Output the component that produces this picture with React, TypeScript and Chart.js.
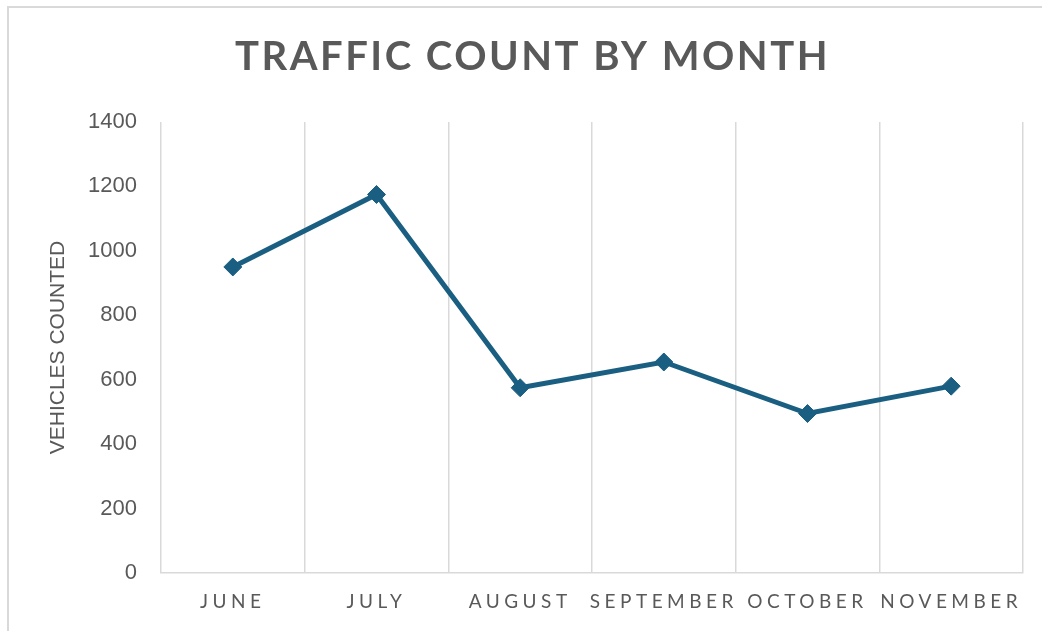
import React, { useEffect, useRef } from "react";
import { Chart, registerables } from "chart.js";

Chart.register(...registerables);

const months = ["JUNE", "JULY", "AUGUST", "SEPTEMBER", "OCTOBER", "NOVEMBER"];
const vehicles = [950, 1175, 575, 655, 495, 580];
const chartTitle = "TRAFFIC COUNT BY MONTH";
const yAxisTitle = "VEHICLES COUNTED";
const yMin = 0;
const yMax = 1400;
const yStep = 200;

const TEXT = "#595959";
const GRID = "#d9d9d9";
const LINE = "#1a5f82";

const spacingPlugin = {
  id: "letterSpacingPatch",
  beforeDraw(chart: any) {
    const ctx = chart.ctx as any;
    const x = chart.scales.x;
    if (x && !x.__ls) {
      const orig = x.drawLabels.bind(x);
      x.drawLabels = (area: any) => {
        ctx.save();
        ctx.letterSpacing = "4.5px";
        orig(area);
        ctx.restore();
      };
      x.__ls = true;
    }
    const t = chart.titleBlock;
    if (t && !t.__ls) {
      const origT = t.draw.bind(t);
      t.draw = (area: any) => {
        ctx.save();
        ctx.letterSpacing = "2.5px";
        ctx.translate(11, 0);
        origT(area);
        ctx.restore();
      };
      t.__ls = true;
    }
  },
};

export default function App() {
  const ref = useRef<HTMLCanvasElement | null>(null);

  useEffect(() => {
    document.body.style.margin = "0";
    const canvas = ref.current;
    if (!canvas) return;
    const chart = new Chart(canvas, {
      type: "line",
      data: {
        labels: months,
        datasets: [
          {
            data: vehicles,
            borderColor: LINE,
            backgroundColor: LINE,
            borderWidth: 5,
            pointStyle: "rectRot",
            pointRadius: 9,
            pointBorderWidth: 1,
            pointBackgroundColor: LINE,
            pointBorderColor: LINE,
            tension: 0,
          },
        ],
      },
      options: {
        responsive: false,
        animation: false,
        devicePixelRatio: 1,
        layout: { padding: { left: 20, right: 19, top: 0, bottom: 0 } },
        plugins: {
          legend: { display: false },
          tooltip: { enabled: false },
          title: {
            display: true,
            text: chartTitle,
            color: TEXT,
            font: { family: "Lato", size: 40, weight: "bold", lineHeight: 1.2 },
            padding: { top: 33, bottom: 41 },
          },
        },
        scales: {
          x: {
            type: "category",
            offset: true,
            grid: {
              display: true,
              offset: true,
              color: GRID,
              lineWidth: 1.5,
              drawTicks: false,
            },
            border: { display: true, color: GRID, width: 1.5 },
            ticks: {
              color: TEXT,
              font: { family: "Lato", size: 19 },
              padding: 17,
              maxRotation: 0,
              minRotation: 0,
              autoSkip: false,
            },
            afterFit(scale: any) {
              scale.height = 58;
            },
          },
          y: {
            min: yMin,
            max: yMax,
            grid: { display: false, drawTicks: false },
            border: { display: false },
            ticks: {
              stepSize: yStep,
              color: TEXT,
              font: { family: "Liberation Sans", size: 22 },
              padding: 24,
              callback: (v: any) => String(v),
            },
            title: {
              display: true,
              text: yAxisTitle,
              color: TEXT,
              font: { family: "Liberation Sans", size: 21, lineHeight: 1.2 },
              padding: { top: 26, bottom: 0 },
            },
            afterFit(scale: any) {
              scale.width = 141;
            },
          },
        },
      },
      plugins: [spacingPlugin],
    } as any);
    return () => chart.destroy();
  }, []);

  return (
    <div style={{ position: "relative", width: 1042, height: 631, background: "#fff" }}>
      <canvas ref={ref} width={1042} height={631} style={{ display: "block" }} />
      <div
        style={{
          position: "absolute",
          left: 7,
          top: 6,
          right: 0,
          bottom: 0,
          borderLeft: `2px solid ${GRID}`,
          borderTop: `2px solid ${GRID}`,
          pointerEvents: "none",
        }}
      />
    </div>
  );
}
